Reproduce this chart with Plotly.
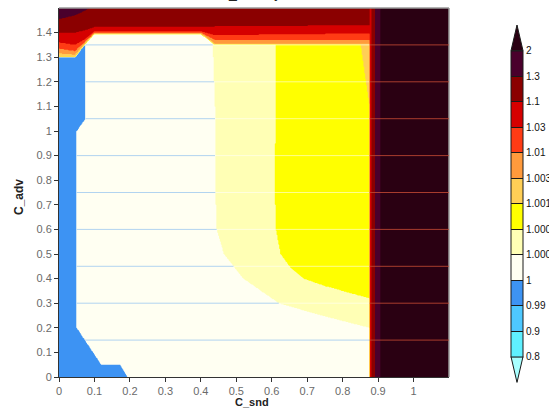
import numpy as np
import plotly.graph_objects as go

# ---------------- contour levels / colours ----------------
levels = [0.8, 0.9, 0.99, 1.0, 1.0001, 1.0005, 1.001, 1.003, 1.01, 1.03, 1.1, 1.3, 2.0]
level_labels = ["0.8", "0.9", "0.99", "1", "1.0001", "1.0005", "1.001", "1.003",
                "1.01", "1.03", "1.1", "1.3", "2"]
band_colors = ["#a8ffff", "#5ff0ff", "#4ec8ff", "#3d93f3", "#fffff2", "#ffffb5",
               "#ffff00", "#ffcf56", "#ff9a3c", "#ff3b14", "#d50000", "#8b0000",
               "#4a002c", "#2a0012"]

# ---------------- representative field values per region ----------------
v_blue, v_cream, v_ly, v_yel = 0.995, 1.00005, 1.0003, 1.0008
v_lo, v_or, v_ored, v_red = 1.002, 1.006, 1.02, 1.06
v_dred, v_purp, v_dark = 1.2, 1.6, 3.0

# ---------------- region boundaries ----------------
blue_y = [0.0, 0.05, 0.0501, 0.2, 1.0, 1.05, 1.5]
blue_x = [0.193, 0.173, 0.119, 0.05, 0.05, 0.075, 0.075]
blue_top_x = [0.0, 0.045, 0.072, 1.1]
blue_top_y = [1.30, 1.30, 1.355, 1.355]

ly_y = [0.2, 0.25, 0.3, 0.4, 0.5, 0.6, 0.8, 1.1, 1.5]
ly_x = [0.876, 0.74, 0.62, 0.52, 0.465, 0.445, 0.44, 0.44, 0.43]
yel_y = [0.32, 0.33, 0.37, 0.4, 0.45, 0.5, 0.6, 0.8, 1.1, 1.5]
yel_x = [0.876, 0.85, 0.75, 0.69, 0.65, 0.625, 0.612, 0.608, 0.612, 0.61]
lo_wedge_y = [1.1, 1.36]
lo_wedge_x = [0.876, 0.85]

top_x = [0.0, 0.045, 0.075, 0.1, 0.40, 0.44, 0.876]
top_int = [1.30, 1.30, 1.355, 1.394, 1.394, 1.35, 1.35]
top_lo = [1.315, 1.31, 1.36, 1.397, 1.397, 1.355, 1.355]
top_or = [1.335, 1.325, 1.365, 1.400, 1.400, 1.37, 1.37]
top_ored = [1.36, 1.35, 1.375, 1.405, 1.405, 1.39, 1.397]
top_red = [1.40, 1.40, 1.41, 1.422, 1.422, 1.425, 1.43]
top_dred = [1.455, 1.47, 1.49, 1.51, 1.51, 1.51, 1.51]

edge_x = [0.876, 0.880, 0.892, 0.906]
edge_v = [v_red, v_dred, v_purp, v_dark]

x_ticks = [0, 0.1, 0.2, 0.3, 0.4, 0.5, 0.6, 0.7, 0.8, 0.9, 1]
y_ticks = [0, 0.1, 0.2, 0.3, 0.4, 0.5, 0.6, 0.7, 0.8, 0.9, 1, 1.1, 1.2, 1.3, 1.4]
guide_y = [0.15, 0.3, 0.45, 0.6, 0.75, 0.9, 1.05, 1.2, 1.35]

title_text = "C_density"

# ---------------- build the gridded field ----------------
xs = np.linspace(0, 1.1, 441)
ys = np.linspace(0, 1.5, 501)
X, Y = np.meshgrid(xs, ys)
Z = np.full(X.shape, v_cream)
Z[X > np.interp(Y, ly_y, ly_x, left=np.inf)] = v_ly
Z[X > np.interp(Y, yel_y, yel_x, left=np.inf)] = v_yel
Z[(Y >= lo_wedge_y[0]) & (X > np.interp(Y, lo_wedge_y, lo_wedge_x))] = v_lo
Z[(X < np.interp(Y, blue_y, blue_x)) & (Y < np.interp(X, blue_top_x, blue_top_y))] = v_blue
for tops, val in [(top_int, v_lo), (top_lo, v_or), (top_or, v_ored),
                  (top_ored, v_red), (top_red, v_dred), (top_dred, v_purp)]:
    Z[Y > np.interp(X, top_x, tops)] = val
for ex, ev in zip(edge_x, edge_v):
    Z[X > ex] = ev

# map to level-index space so the non-uniform levels become evenly spaced
idx = np.interp(Z, levels, np.arange(len(levels)))
idx[Z > levels[-1]] = len(levels) - 0.5
idx[Z < levels[0]] = -0.5
idx = np.round(idx, 3)

nb = len(band_colors)
fig = go.Figure()
fig.add_trace(go.Contour(
    x=xs, y=ys, z=idx, autocontour=False,
    contours=dict(start=0, end=len(levels) - 1, size=1, coloring="fill", showlines=False),
    line=dict(width=0),
    colorscale=[[k / (nb - 1), c] for k, c in enumerate(band_colors)],
    showscale=False, hoverinfo="skip"))

# ---------------- colour bar (via a hidden heatmap) ----------------
W, H = 549, 409
ml, mr, mt, mb = 59, 100, 8, 32
pw, ph = W - ml - mr, H - mt - mb
cb_left_px, cb_thick = 511, 12
cb_top_px, cb_bot_px = 50.7, 356.7
tri_h = 25.7

def px2paper_x(px):
    return (px - ml) / pw

def px2paper_y(py):
    return (H - mb - py) / ph

nlev = len(levels)
cb_scale = []
for k in range(nlev - 1):
    cb_scale += [[k / (nlev - 1), band_colors[k + 1]], [(k + 1) / (nlev - 1), band_colors[k + 1]]]

fig.add_trace(go.Heatmap(
    x=[10, 11], y=[10, 11], z=[[0, nlev - 1], [0, nlev - 1]], zmin=0, zmax=nlev - 1,
    colorscale=cb_scale, xaxis="x2", yaxis="y2", hoverinfo="skip",
    colorbar=dict(
        x=px2paper_x(cb_left_px), xanchor="left", xpad=0,
        y=px2paper_y((cb_top_px + cb_bot_px) / 2), yanchor="middle", ypad=0,
        thickness=cb_thick, lenmode="pixels", len=cb_bot_px - cb_top_px,
        outlinewidth=1, outlinecolor="#1a1a1a",
        ticks="inside", ticklen=cb_thick, tickwidth=1, tickcolor="#1a1a1a",
        tickvals=list(range(nlev)), ticktext=level_labels,
        tickfont=dict(family="Liberation Sans", size=10, color="#111"),
    )))

cx0 = px2paper_x(cb_left_px)
cx1 = px2paper_x(cb_left_px + cb_thick)
cxm = (cx0 + cx1) / 2
shapes = [
    dict(type="path", xref="paper", yref="paper",
         path=f"M {cx0} {px2paper_y(cb_top_px)} L {cx1} {px2paper_y(cb_top_px)} L {cxm} {px2paper_y(cb_top_px - tri_h)} Z",
         fillcolor=band_colors[-1], line=dict(color="#1a1a1a", width=1)),
    dict(type="path", xref="paper", yref="paper",
         path=f"M {cx0} {px2paper_y(cb_bot_px)} L {cx1} {px2paper_y(cb_bot_px)} L {cxm} {px2paper_y(cb_bot_px + tri_h)} Z",
         fillcolor=band_colors[0], line=dict(color="#1a1a1a", width=1)),
    # light top / right frame
    dict(type="line", xref="paper", yref="paper", x0=0, x1=1, y0=1, y1=1,
         line=dict(color="#9a9a9a", width=1.5)),
    dict(type="line", xref="paper", yref="paper", x0=1, x1=1, y0=0, y1=1,
         line=dict(color="#9a9a9a", width=1.5)),
]
for g in guide_y:
    xb = float(np.interp(g, blue_y, blue_x))
    xl = float(min(np.interp(g, ly_y, ly_x, left=edge_x[0]), edge_x[0]))
    shapes.append(dict(type="line", xref="x", yref="y", x0=xb, x1=xl, y0=g, y1=g,
                       line=dict(color="rgba(165,205,240,0.85)", width=1)))
    if xl < edge_x[0]:
        shapes.append(dict(type="line", xref="x", yref="y", x0=xl, x1=edge_x[0], y0=g, y1=g,
                           line=dict(color="rgba(255,255,255,0.55)", width=1)))
    shapes.append(dict(type="line", xref="x", yref="y", x0=edge_x[0], x1=1.1, y0=g, y1=g,
                       line=dict(color="rgba(190,70,50,0.85)", width=1)))

tick_font = dict(family="Liberation Sans", size=11, color="#6a6a6a")
fig.update_layout(
    width=W, height=H, margin=dict(l=ml, r=mr, t=mt, b=mb, autoexpand=False),
    paper_bgcolor="white", plot_bgcolor="white", showlegend=False,
    xaxis=dict(range=[0, 1.1], tickvals=x_ticks, ticktext=[f"{v:g}" for v in x_ticks],
               ticks="outside", ticklen=4, tickcolor="#333", showgrid=False, zeroline=False,
               showline=True, linecolor="#333", linewidth=1, tickfont=tick_font),
    yaxis=dict(range=[0, 1.5], tickvals=y_ticks, ticktext=[f"{v:g}" for v in y_ticks],
               ticks="outside", ticklen=4, tickcolor="#333", showgrid=False, zeroline=False,
               showline=True, linecolor="#333", linewidth=1, tickfont=tick_font),
    xaxis2=dict(overlaying="x", range=[0, 1], visible=False),
    yaxis2=dict(overlaying="y", range=[0, 1], visible=False),
    shapes=shapes,
    annotations=[
        dict(text="<b>C_snd</b>", xref="paper", yref="paper", x=px2paper_x(252), y=px2paper_y(402),
             xanchor="center", yanchor="middle", showarrow=False,
             font=dict(family="Liberation Sans", size=11, color="#222")),
        dict(text="<b>C_adv</b>", xref="paper", yref="paper", x=px2paper_x(19), y=px2paper_y(197),
             xanchor="center", yanchor="middle", showarrow=False, textangle=-90,
             font=dict(family="Liberation Sans", size=12, color="#222")),
        dict(text=title_text, xref="paper", yref="paper", x=px2paper_x(250), y=px2paper_y(3.5),
             xanchor="center", yanchor="bottom", showarrow=False,
             font=dict(family="Liberation Sans", size=14, color="#222")),
    ],
)

fig.write_html("out.html")
